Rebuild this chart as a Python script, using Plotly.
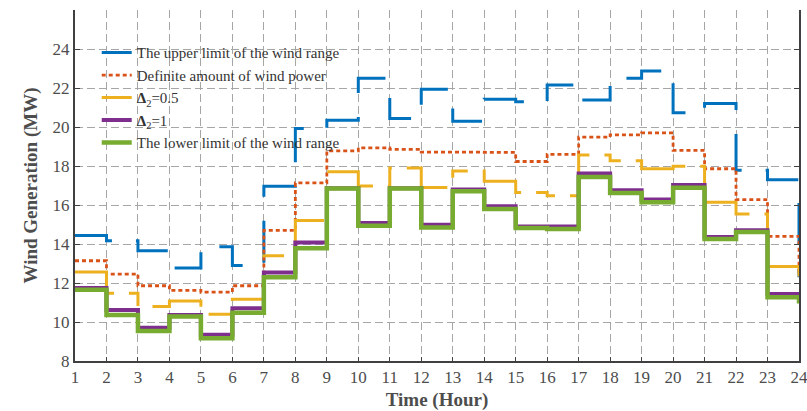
import plotly.graph_objects as go

hours = list(range(1, 25))

upper = [14.43, 14.17, 13.65, 12.77, 13.86, 12.90, 16.96, 19.92, 20.34, 22.50, 20.43, 21.93,
         20.30, 21.42, 21.30, 22.15, 21.38, 22.50, 22.87, 20.73, 21.20, 17.78, 17.30, 12.3]
definite = [13.14, 12.46, 11.86, 11.62, 11.53, 11.86, 14.70, 17.13, 18.78, 18.93, 18.85, 18.71,
            18.71, 18.70, 18.23, 18.60, 19.48, 19.60, 19.70, 18.80, 17.86, 16.28, 14.39, 12.5]
delta05 = [12.56, 11.48, 10.79, 11.08, 10.40, 11.17, 13.40, 15.20, 17.70, 16.97, 17.90, 16.90,
           17.75, 17.22, 16.64, 16.48, 18.56, 18.27, 17.86, 17.99, 16.14, 15.54, 12.85, 11.9]
delta1 = [11.74, 10.62, 9.71, 10.36, 9.34, 10.71, 12.54, 14.08, 16.86, 15.08, 16.86, 14.99,
          16.79, 15.93, 14.90, 14.90, 17.61, 16.76, 16.28, 17.02, 14.36, 14.70, 11.44, 11.1]
lower = [11.65, 10.36, 9.54, 10.28, 9.17, 10.48, 12.30, 13.78, 16.84, 14.94, 16.84, 14.85,
         16.70, 15.80, 14.82, 14.77, 17.44, 16.62, 16.14, 16.88, 14.26, 14.62, 11.27, 10.95]

series_names = ["The upper limit of the wind range", "Definite amount of wind power",
                "<b>Δ</b><sub>2</sub>=0.5", "<b>Δ</b><sub>2</sub>=1",
                "The lower limit of the wind range"]
x_ticks = list(range(1, 25))
y_ticks = list(range(8, 25, 2))

styles = [
    dict(color="#0072BD", width=3, dash="42px,24px"),
    dict(color="#D95319", width=2.8, dash="4px,3px"),
    dict(color="#EDB120", width=3, dash="60px,15px,22px,15px"),
    dict(color="#7E2F8E", width=4),
    dict(color="#77AC30", width=4.5),
]

fig = go.Figure()
for name, vals, st in zip(series_names, [upper, definite, delta05, delta1, lower], styles):
    fig.add_trace(go.Scatter(x=hours, y=vals, mode="lines", name=name,
                             line=dict(shape="hv", **st)))

serif = "Liberation Serif, Times New Roman, serif"
fig.update_layout(
    width=807, height=411,
    margin=dict(l=75, r=8, t=10, b=50),
    plot_bgcolor="white", paper_bgcolor="white",
    font=dict(family=serif, color="#4d4d4d"),
    showlegend=True,
    legend=dict(x=0.030, y=0.925, xanchor="left", yanchor="top",
                bgcolor="rgba(0,0,0,0)", borderwidth=0,
                font=dict(family=serif, size=15, color="#333333"),
                itemwidth=30, tracegroupgap=0),
    xaxis=dict(range=[1, 24], tickvals=x_ticks, ticktext=[str(v) for v in x_ticks],
               automargin=False, ticklabeloverflow="allow",
               showgrid=True, gridcolor="#a6a6a6", griddash="8px,4px", gridwidth=1.2,
               showline=True, linecolor="#404040", linewidth=2, mirror=False,
               ticks="inside", ticklen=4, tickcolor="#404040",
               tickfont=dict(family=serif, size=17, color="#4d4d4d"),
               title=dict(text="<b>Time (Hour)</b>", font=dict(family=serif, size=19, color="#4d4d4d"),
                          standoff=6),
               zeroline=False),
    yaxis=dict(range=[8, 26], tickvals=y_ticks, ticktext=[str(v) for v in y_ticks],
               automargin=False,
               showgrid=True, gridcolor="#a6a6a6", griddash="8px,4px", gridwidth=1.2,
               showline=True, linecolor="#404040", linewidth=2, mirror="ticks",
               ticks="inside", ticklen=5, tickcolor="#404040",
               tickfont=dict(family=serif, size=17, color="#4d4d4d"),
               title=dict(text="<b>Wind Generation (MW)</b>", font=dict(family=serif, size=19, color="#4d4d4d"),
                          standoff=10),
               zeroline=False),
)

fig.write_html("out.html")
